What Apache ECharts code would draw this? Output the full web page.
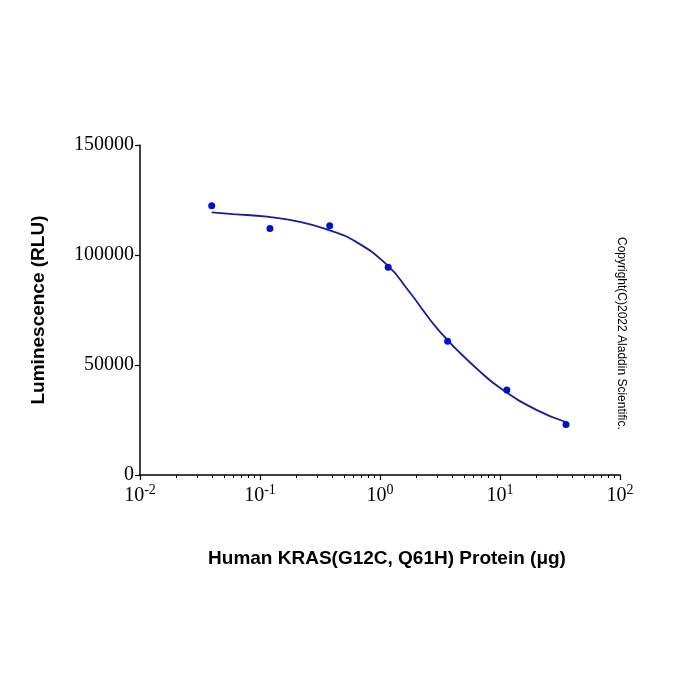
<!DOCTYPE html>
<html>
<head>
<meta charset="utf-8">
<script src="https://cdn.jsdelivr.net/npm/echarts@6/dist/echarts.min.js"></script>
<style>
  html, body { margin: 0; padding: 0; background: #fff; }
  #root { width: 700px; height: 700px; }
</style>
</head>
<body>
<div id="root"></div>
<script>
// measured points (µg, RLU)
const doseX = [0.0396, 0.121, 0.381, 1.17, 3.66, 11.4, 35.5]
const lumY = [122400, 112100, 113300, 94400, 60800, 38600, 22900]

// fitted curve
const curveX = [0.0396, 0.0596, 0.1144, 0.2154, 0.369, 0.596, 1.144, 1.711, 3.162, 6.81, 10.59, 20.3, 34.8]
const curveY = [119400, 118600, 117400, 115100, 111400, 106800, 95500, 84100, 65100, 47000, 38600, 29500, 24200]

// y ticks and x decades
const yTicks = [0, 50000, 100000, 150000]
const decades = [0.01, 0.1, 1, 10]
const minorSteps = [2, 3, 4, 5, 6, 7, 8, 9]

const minorTicks = []
decades.forEach(d => minorSteps.forEach(m => minorTicks.push(+(d * m).toPrecision(3))))

const chart = echarts.init(document.getElementById('root'))

const serif = '"Liberation Serif", "Times New Roman", serif'
const sans = '"Liberation Sans", Arial, sans-serif'

const option = {
  backgroundColor: '#fff',
  animation: false,
  grid: { left: 140, right: 80, top: 145, bottom: 225 },
  xAxis: [
    {
      type: 'log',
      logBase: 10,
      min: 0.01,
      max: 100,
      name: 'Human KRAS(G12C, Q61H) Protein (μg)',
      nameLocation: 'middle',
      nameGap: 74,
      nameTextStyle: { fontFamily: sans, fontWeight: 'bold', fontSize: 19, color: '#000', padding: [0, 0, 0, 14] },
      axisLine: { lineStyle: { color: '#000', width: 1.5 } },
      axisTick: { length: 5, lineStyle: { color: '#000', width: 1.2 } },
      splitLine: { show: false },
      axisLabel: {
        margin: 8,
        formatter: v => '{b|10}{s|' + Math.round(Math.log10(v)) + '}',
        rich: {
          b: { fontFamily: serif, fontSize: 20, color: '#000', verticalAlign: 'bottom' },
          s: { fontFamily: serif, fontSize: 14, color: '#000', verticalAlign: 'top', padding: [0, 0, 9, 0] }
        }
      }
    },
    {
      type: 'log',
      logBase: 10,
      min: 0.01,
      max: 100,
      position: 'bottom',
      axisLine: { show: false },
      axisLabel: { show: false },
      splitLine: { show: false },
      axisTick: { customValues: minorTicks, length: 3, lineStyle: { color: '#000', width: 1 } }
    }
  ],
  yAxis: {
    type: 'value',
    min: 0,
    max: 150000,
    interval: 50000,
    name: 'Luminescence (RLU)',
    nameLocation: 'middle',
    nameGap: 92,
    nameTextStyle: { fontFamily: sans, fontWeight: 'bold', fontSize: 19, color: '#000' },
    axisLine: { show: true, lineStyle: { color: '#000', width: 1.5 } },
    axisTick: { show: true, length: 5, lineStyle: { color: '#000', width: 1.2 } },
    splitLine: { show: false },
    axisLabel: {
      margin: 6,
      fontFamily: serif,
      fontSize: 20,
      color: '#000',
      customValues: yTicks,
      formatter: v => String(v)
    }
  },
  graphic: [
    {
      type: 'text',
      left: 615,
      top: 237,
      style: {
        text: 'Copyright(C)2022 Aladdin Scientific.',
        font: '12px ' + sans,
        fill: '#000'
      },
      rotation: -Math.PI / 2,
      originX: 0,
      originY: 0
    }
  ],
  series: [
    {
      type: 'line',
      data: curveX.map((x, i) => [x, curveY[i]]),
      smooth: true,
      showSymbol: false,
      lineStyle: { color: '#1c1c9c', width: 1.8 },
      z: 2
    },
    {
      type: 'scatter',
      data: doseX.map((x, i) => [x, lumY[i]]),
      symbolSize: 7,
      itemStyle: { color: '#0010d0', opacity: 1 },
      z: 3
    }
  ]
}

chart.setOption(option)
</script>
</body>
</html>
